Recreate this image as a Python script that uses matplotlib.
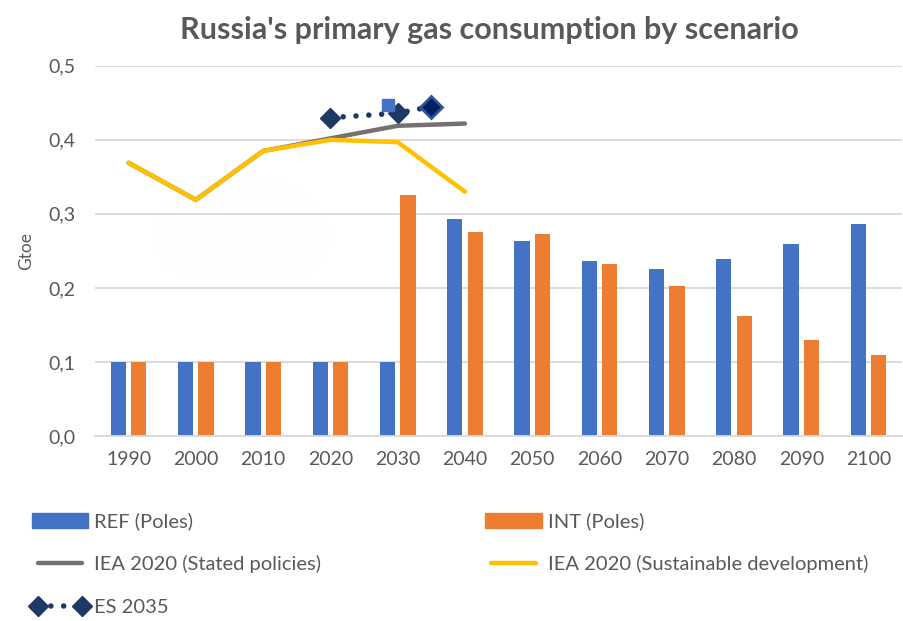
import numpy as np
import matplotlib
matplotlib.use("Agg")
import matplotlib.pyplot as plt
from matplotlib.patches import Patch
from matplotlib.lines import Line2D

plt.rcParams['font.family'] = ['Lato', 'DejaVu Sans']

# data (Gtoe)
years = [1990, 2000, 2010, 2020, 2030, 2040, 2050, 2060, 2070, 2080, 2090, 2100]
ref_poles = [0.1, 0.1, 0.1, 0.1, 0.1, 0.293, 0.263, 0.236, 0.226, 0.239, 0.259, 0.286]
int_poles = [0.1, 0.1, 0.1, 0.1, 0.326, 0.276, 0.273, 0.232, 0.203, 0.162, 0.129, 0.109]
stated_years = [1990, 2000, 2010, 2020, 2030, 2040]
stated = [0.369, 0.319, 0.385, 0.402, 0.419, 0.422]
sustain_years = [1990, 2000, 2010, 2020, 2030, 2040]
sustain = [0.369, 0.319, 0.385, 0.400, 0.397, 0.330]
es_years = [2020, 2030, 2035]
es2035 = [0.430, 0.436, 0.445]
extra_year = 2028.5
extra_val = 0.447

BLUE = '#4472C4'
ORANGE = '#ED7D31'
GRAY = '#767171'
YELLOW = '#FFC000'
NAVY = '#203864'
TXT = '#595959'
GRID = '#D9D9D9'


def pos(yr):
    # category axis: one slot per decade starting at 1990
    return (np.asarray(yr, dtype=float) - 1990) / 10


fig = plt.figure(figsize=(9.04, 6.21), dpi=100)
ax = fig.add_axes([0.105, 0.298, 0.893, 0.596])

x = np.arange(len(years))
w = 0.227
ax.bar(x - 0.152, ref_poles, w, color=BLUE, zorder=2)
ax.bar(x + 0.152, int_poles, w, color=ORANGE, zorder=2)

ax.plot(pos(stated_years), stated, color=GRAY, lw=3.2, solid_capstyle='round',
        solid_joinstyle='round', zorder=3)
ax.plot(pos(sustain_years), sustain, color=YELLOW, lw=3.2, solid_capstyle='round',
        solid_joinstyle='round', zorder=4)
ax.plot(pos(es_years), es2035, color=NAVY, lw=4.0, linestyle=(0, (0.01, 2.3)),
        dash_capstyle='round', marker='D', ms=10, mfc=NAVY, mec=NAVY, zorder=5)
ax.plot(pos(es_years[-1:]), es2035[-1:], linestyle='none', marker='D', ms=11,
        mfc='#002060', mec='#2F5597', mew=2, zorder=6)
ax.plot(pos([extra_year]), [extra_val], linestyle='none', marker='s', ms=9,
        mfc=BLUE, mec=BLUE, zorder=5)

# faint smudge in the background
gy, gx = np.mgrid[-1:1:80j, -1:1:80j]
blob = np.exp(-(gx ** 2 + gy ** 2) * 2.5)
ax.imshow(blob, cmap='Greys', vmin=0, vmax=40, alpha=0.5,
          extent=(0.2, 3.2, 0.18, 0.36), aspect='auto', zorder=0)

ax.set_xlim(-0.5, len(years) - 0.5)
ax.set_ylim(0, 0.5)
ax.set_xticks(x)
ax.set_xticklabels([str(y) for y in years])
yt = [0, 0.1, 0.2, 0.3, 0.4, 0.5]
ax.set_yticks(yt)
ax.set_yticklabels([f"{v:.1f}".replace('.', ',') for v in yt])
ax.tick_params(length=0, colors=TXT, labelsize=14)
ax.tick_params(axis='x', pad=11)
ax.tick_params(axis='y', pad=14)
ax.grid(axis='y', color=GRID, lw=1.3, zorder=1)
for s in ['top', 'right', 'left']:
    ax.spines[s].set_visible(False)
ax.spines['bottom'].set_color(GRID)
ax.spines['bottom'].set_linewidth(1.3)
ax.set_ylabel('Gtoe', color=TXT, fontsize=12.5, labelpad=10)

fig.text(0.541, 0.951, "Russia's primary gas consumption by scenario", ha='center',
         va='center', fontsize=22, fontweight='bold', color=TXT)

h_ref = Patch(color=BLUE)
h_int = Patch(color=ORANGE)
h_st = Line2D([], [], color=GRAY, lw=3.2, solid_capstyle='round')
h_sd = Line2D([], [], color=YELLOW, lw=3.2, solid_capstyle='round')
h_es = Line2D([], [], color=NAVY, lw=4.0, linestyle=(0, (0.01, 2.3)),
              dash_capstyle='round', marker='D', ms=10, mfc=NAVY, mec=NAVY)

leg_kw = dict(frameon=False, fontsize=14.5, handlelength=2.8, handleheight=0.75,
              handletextpad=0.3, labelspacing=1.25, labelcolor=TXT,
              loc='upper left', borderaxespad=0, borderpad=0, numpoints=2)
fig.legend([h_ref, h_st, h_es], ['REF (Poles)', 'IEA 2020 (Stated policies)', 'ES 2035'],
           bbox_to_anchor=(0.035, 0.175), **leg_kw)
fig.legend([h_int, h_sd], ['INT (Poles)', 'IEA 2020 (Sustainable development)'],
           bbox_to_anchor=(0.537, 0.175), **leg_kw)

fig.savefig('out.png', dpi=100)
